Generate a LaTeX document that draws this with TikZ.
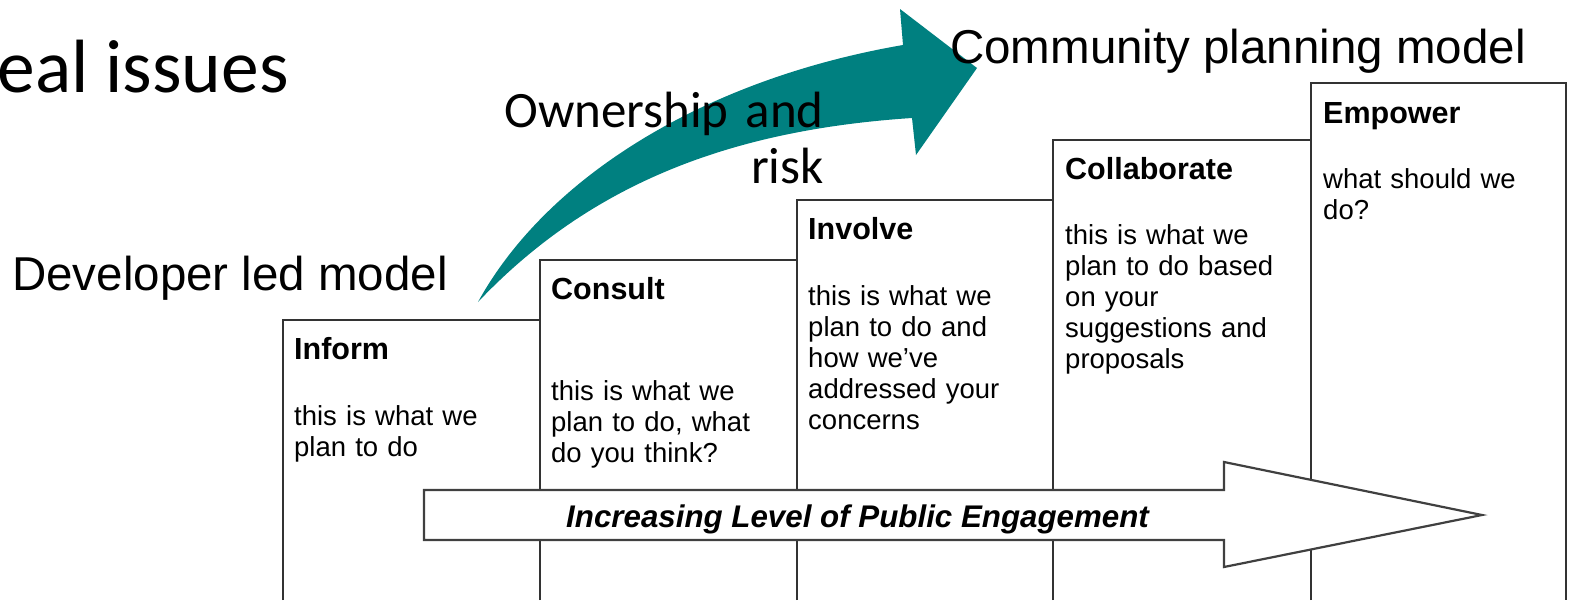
\documentclass[tikz,border=0pt]{standalone}
\usepackage{fontspec}
\setmainfont{Liberation Sans}
\newfontfamily\slidefont{Carlito}
\usetikzlibrary{positioning}
\definecolor{ownteal}{RGB}{0,128,128}

\begin{document}
\begin{tikzpicture}[
    x=1pt, y=-1pt,
    column/.style={line width=1.8pt, draw=black!80},
    stagetitle/.style={anchor=base west, inner sep=0pt, font=\fontsize{30.5}{31}\selectfont\bfseries},
    stagetext/.style={anchor=base west, inner sep=0pt, text width=245pt, align=left, font=\fontsize{27.5}{31}\selectfont},
    modellabel/.style={anchor=base west, inner sep=0pt, font=\fontsize{47.5}{56}\selectfont},
    engagement/.style={line width=2.2pt, draw=black!75, fill=white}
]
   \useasboundingbox (0,0) rectangle (1573,600);

   % Heading cut off at the left edge
   \node[anchor=base west, inner sep=0pt, font=\slidefont\fontsize{75.5}{80}\selectfont] (issues) at (-42.5,92) {Real issues};

   % Stair of columns
   \foreach \xa/\xb/\ya in {283/540/320, 540/797/260, 797/1053/200, 1053/1311/140, 1311/1566/83}
      \draw[column] (\xa,600) -- (\xa,\ya) -- (\xb,\ya) -- (\xb,600);

   % Stage titles
   \node[stagetitle] (inform) at (294,359) {Inform};
   \node[stagetitle] (consult) at (551,299) {Consult};
   \node[stagetitle] (involve) at (808,239) {Involve};
   \node[stagetitle] (collaborate) at (1065,179) {Collaborate};
   \node[stagetitle] (empower) at (1323,123) {Empower};

   % Stage texts
   \node[stagetext] (informtext) at (294,425) {this is what we\\plan to do};
   \node[stagetext] (consulttext) at (551,400) {this is what we\\plan to do, what\\do you think?};
   \node[stagetext] (involvetext) at (808,305) {this is what we\\plan to do and\\how we’ve\\addressed your\\concerns};
   \node[stagetext] (collaboratetext) at (1065,244) {this is what we\\plan to do based\\on your\\suggestions and\\proposals};
   \node[stagetext] (empowertext) at (1323,188) {what should we\\do?};

   % Engagement arrow across the columns
   \draw[engagement] (424,490) -- (1224,490) -- (1224,462) -- (1482,515)
      -- (1224,567) -- (1224,540) -- (424,540) -- cycle;
   \node[anchor=base west, inner sep=0pt, font=\fontsize{31.3}{32}\selectfont\bfseries\itshape] (level) at (566,527) {Increasing Level of Public Engagement};

   % Curved teal arrow
   \fill[ownteal] (478,302) .. controls (545,180) and (700,80) .. (903,45)
      -- (900,9) -- (977,68) -- (916,155) -- (912,118)
      .. controls (730,130) and (590,184) .. (478,302) -- cycle;

   % Model labels
   \node[modellabel] (developer) at (12,290) {Developer led model};
   \node[modellabel] (community) at (950,63) {Community planning model};
   \node[anchor=base east, inner sep=0pt, text width=340pt, align=right, font=\slidefont\fontsize{51}{56}\selectfont] (ownership) at (824,127) {Ownership and\\risk};

\end{tikzpicture}
\end{document}
